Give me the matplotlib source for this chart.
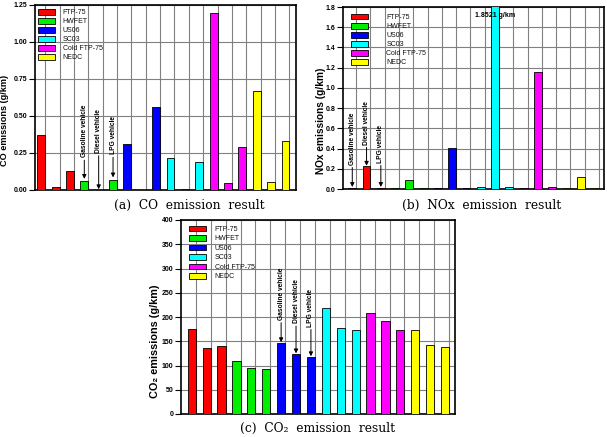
import numpy as np
import matplotlib
matplotlib.use('Agg')
import matplotlib.pyplot as plt

# ------------------------------------------------------------------
# data: per test cycle -> [gasoline, diesel, LPG]
cycles = ['FTP-75', 'HWFET', 'US06', 'SC03', 'Cold FTP-75', 'NEDC']
colors = ['#ff0000', '#00ee00', '#0000ff', '#00ffff', '#ff00ff', '#ffff00']
vehicles = ['Gasoline vehicle', 'Diesel vehicle', 'LPG vehicle']

co_ftp75 = [0.372, 0.018, 0.126]
co_hwfet = [0.061, 0.002, 0.068]
co_us06 = [0.309, 0.002, 0.559]
co_sc03 = [0.214, 0.007, 0.189]
co_cold = [1.198, 0.047, 0.290]
co_nedc = [0.669, 0.054, 0.329]

nox_ftp75 = [0.013, 0.224, 0.012]
nox_hwfet = [0.005, 0.086, 0.008]
nox_us06 = [0.005, 0.405, 0.008]
nox_sc03 = [0.015, 1.8521, 0.015]
nox_cold = [0.010, 1.154, 0.022]
nox_nedc = [0.008, 0.119, 0.008]

co2_ftp75 = [174.6, 136.8, 139.5]
co2_hwfet = [110.0, 94.2, 92.1]
co2_us06 = [145.7, 123.7, 117.5]
co2_sc03 = [219.2, 178.0, 173.2]
co2_cold = [208.2, 191.0, 173.9]
co2_nedc = [172.5, 141.6, 137.5]

co = [co_ftp75, co_hwfet, co_us06, co_sc03, co_cold, co_nedc]
nox = [nox_ftp75, nox_hwfet, nox_us06, nox_sc03, nox_cold, nox_nedc]
co2 = [co2_ftp75, co2_hwfet, co2_us06, co2_sc03, co2_cold, co2_nedc]

W = 0.55
SANS = ['Liberation Sans', 'DejaVu Sans']


#------------------------------------------------------------------------
def panel(ax, data, ylim, yticks, fmt, ylabel, xlim, leg, lab):
    for g in range(6):
        x = np.arange(3) + 1 + 3*g
        ax.bar(x, data[g], W, color=colors[g], edgecolor='k', lw=0.6,
               label=cycles[g], zorder=3)
    ax.set_xlim(*xlim)
    ax.set_ylim(*ylim)
    ax.set_xticks(np.arange(1, 19) + W/2)
    ax.tick_params(axis='x', length=0, labelbottom=False)
    ax.set_yticks(yticks)
    ax.set_yticklabels([fmt % v for v in yticks], fontsize=5,
                       fontweight='bold', family=SANS)
    ax.tick_params(axis='y', direction='out', length=4, width=0.8, pad=1.5)
    ax.grid(True, color='#808080', lw=0.8, zorder=0)
    ax.set_axisbelow(True)
    for s in ax.spines.values():
        s.set_linewidth(1.2)
    ax.set_ylabel(ylabel, fontsize=lab[1], fontweight='bold', family=SANS)
    ax.yaxis.set_label_coords(lab[0], 0.375)
    l = ax.legend(loc='upper left', bbox_to_anchor=(leg[0], leg[1]),
                  frameon=False, prop={'family': SANS, 'size': 5},
                  handlelength=2.45, handleheight=0.86, handletextpad=leg[2],
                  labelspacing=leg[3], borderpad=0, borderaxespad=0)
    for t in l.get_texts():
        t.set_color('#111111')


def arrows(ax, xs, ybot, ytip):
    for i in range(3):
        ax.annotate(vehicles[i], xy=(xs[i], ytip[i]), xytext=(xs[i], ybot[i]),
                    rotation=90, ha='center', va='bottom', fontsize=4.8,
                    fontweight='bold', family=SANS, zorder=5,
                    arrowprops=dict(arrowstyle='-|>', color='k', lw=0.7,
                                    mutation_scale=6, shrinkA=0, shrinkB=0))


#------------------------------------------------------------------------
fig = plt.figure(figsize=(6.07, 4.37), dpi=100)

ax1 = fig.add_axes([35/607, 1-190/437, 261/607, 185/437])
panel(ax1, co, (0, 1.25), np.arange(0, 1.26, 0.25), '%.2f',
      'CO emissions (g/km)', (0.57, 18.73), (0.0115, 0.978, 1.1, 0.26),
      (-0.098, 6.6))
arrows(ax1, [4, 5, 6], [0.22, 0.25, 0.24], [0.075, 0.005, 0.085])

ax2 = fig.add_axes([343/607, 1-189/437, 261/607, 182/437])
panel(ax2, nox, (0, 1.8), np.arange(0, 1.81, 0.2), '%.1f',
      'NOx emissions (g/km)', (0.35, 18.63), (0.0295, 0.962, 2.7, 0.27),
      (-0.066, 7.3))
arrows(ax2, [1, 2, 3], [0.24, 0.44, 0.26], [0.02, 0.23, 0.02])
ax2.text(11, 1.72, '1.8521 g/km', ha='center', va='center', fontsize=5,
         fontweight='bold', family=SANS, zorder=5)

ax3 = fig.add_axes([181/607, 1-414/437, 274/607, 194/437])
panel(ax3, co2, (0, 400), np.arange(0, 401, 50), '%d',
      'CO₂ emissions (g/km)', (0.28, 18.67), (0.030, 0.971, 1.2, 0.33),
      (-0.076, 7.8))
arrows(ax3, [7, 8, 9], [194, 187, 180], [148, 125, 119])

# captions
cap = dict(ha='center', va='center', fontsize=8.8, family=['DejaVu Serif'])
fig.text(189/607, 1-205/437, '(a)  CO  emission  result', **cap)
fig.text(482/607, 1-205/437, '(b)  NOx  emission  result', **cap)
fig.text(318/607, 1-428/437, '(c)  CO₂  emission  result', **cap)

fig.savefig('out.png', dpi=100)
